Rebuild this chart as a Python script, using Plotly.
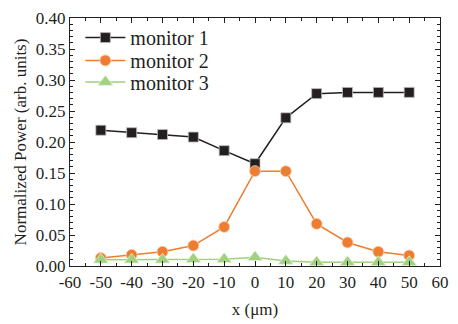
import plotly.graph_objects as go

x = [-50, -40, -30, -20, -10, 0, 10, 20, 30, 40, 50]
monitor1 = [0.219, 0.215, 0.212, 0.208, 0.186, 0.165, 0.239, 0.278, 0.280, 0.280, 0.280]
monitor2 = [0.013, 0.018, 0.023, 0.033, 0.063, 0.153, 0.153, 0.068, 0.038, 0.023, 0.017]
monitor3 = [0.010, 0.010, 0.010, 0.011, 0.011, 0.014, 0.008, 0.006, 0.006, 0.006, 0.006]
x_tickvals = [-60, -50, -40, -30, -20, -10, 0, 10, 20, 30, 40, 50, 60]
x_ticktext = ["-60", "-50", "-40", "-30", "-20", "-10", "0", "10", "20", "30", "40", "50", "60"]

font = "Liberation Serif"
fig = go.Figure()
fig.add_trace(go.Scatter(x=x, y=monitor1, name="monitor 1", mode="lines+markers", legend="legend",
                         line=dict(color="#231f20", width=1.5),
                         marker=dict(symbol="square", size=10, color="#231f20",
                                     line=dict(color="#bbbbbb", width=0.8))))
fig.add_trace(go.Scatter(x=x, y=monitor2, name="monitor 2", mode="lines+markers", legend="legend2",
                         line=dict(color="#ee7d31", width=1.5),
                         marker=dict(symbol="circle", size=11, color="#ee7d31",
                                     line=dict(color="#fbd0b0", width=0.8))))
fig.add_trace(go.Scatter(x=x, y=monitor3, name="monitor 3", mode="lines+markers", legend="legend3",
                         line=dict(color="#9fd17f", width=1.5),
                         marker=dict(symbol="triangle-up", size=13, color="#9fd17f",
                                     line=dict(color="#e0f0d5", width=0.8))))

axis_common = dict(showgrid=False, zeroline=False, showline=True, linecolor="#231f20",
                   linewidth=1.2, mirror="ticks", ticks="inside", ticklen=5,
                   tickcolor="#231f20", tickfont=dict(family=font, size=17, color="#231f20"))
fig.update_xaxes(range=[-60, 60], tickvals=x_tickvals, ticktext=x_ticktext,
                 minor=dict(dtick=5, tick0=0, ticks="inside", ticklen=3, tickcolor="#231f20"),
                 title=dict(text="x (μm)", font=dict(family=font, size=17, color="#231f20"), standoff=12),
                 **axis_common)
fig.update_yaxes(range=[0, 0.40], dtick=0.05, tickformat=".2f",
                 minor=dict(dtick=0.01, ticks="inside", ticklen=3, tickcolor="#231f20"),
                 title=dict(text="Normalized Power (arb. units)", font=dict(family=font, size=17, color="#231f20"), standoff=4),
                 **axis_common)

def leg(yc):
    return dict(x=0.028, y=yc, xanchor="left", yanchor="middle", bgcolor="rgba(0,0,0,0)",
                font=dict(family=font, size=20, color="#231f20"), itemwidth=40)

fig.update_layout(width=458, height=324, margin=dict(l=70, r=9, t=15, b=57),
                  plot_bgcolor="white", paper_bgcolor="white", showlegend=True,
                  legend=leg(0.921), legend2=leg(0.829), legend3=leg(0.742))
fig.write_html("out.html")
